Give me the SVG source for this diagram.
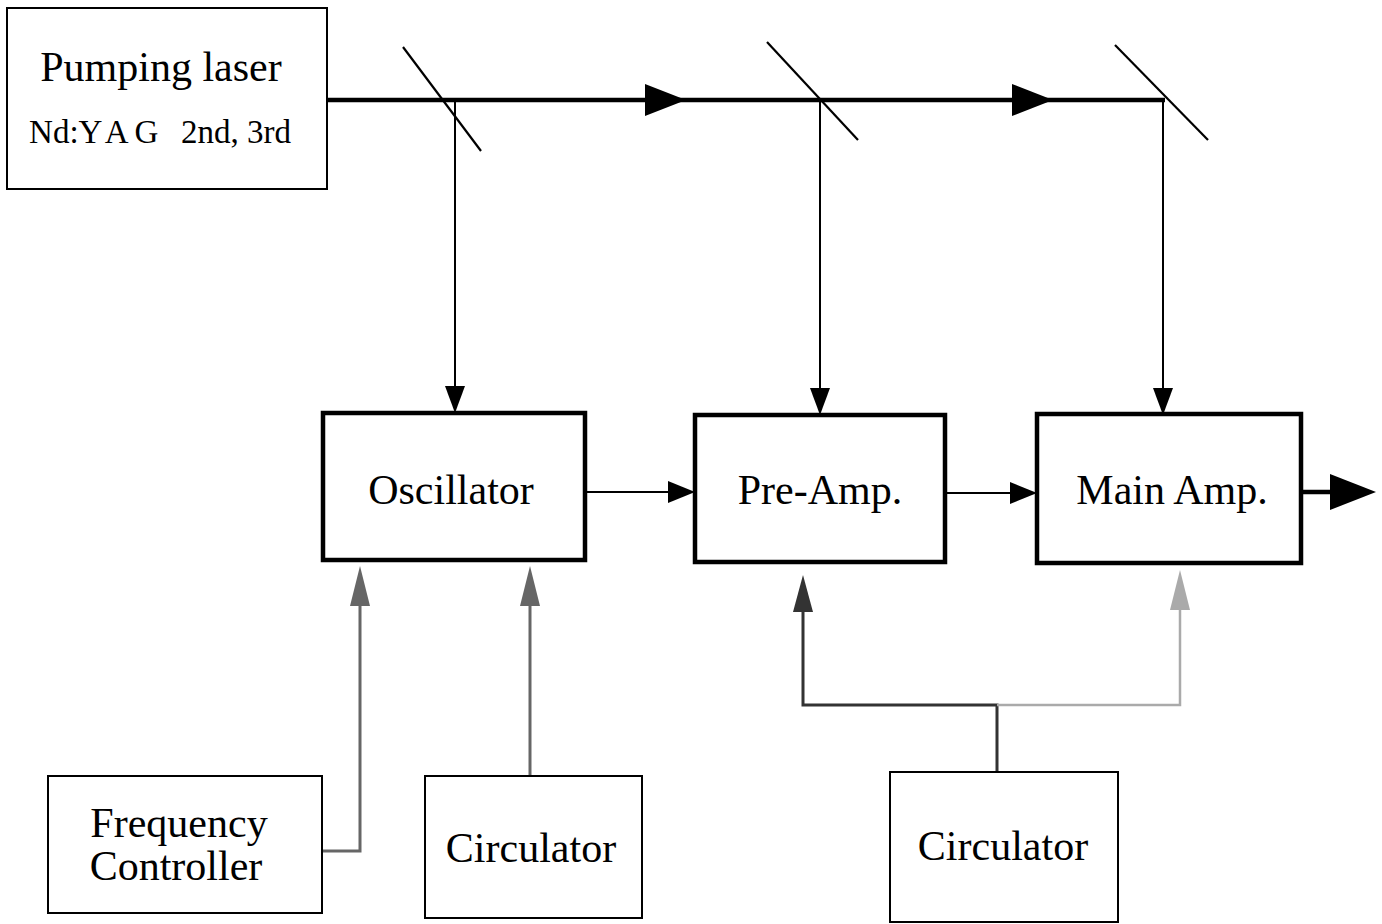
<svg xmlns="http://www.w3.org/2000/svg" width="1382" height="924" viewBox="0 0 1382 924">
<style>
.box{fill:#fff;stroke:#000;stroke-width:2}
.bold{fill:#fff;stroke:#000;stroke-width:4.5}
.t{font-family:"Liberation Serif","Times New Roman",serif;font-size:42px;fill:#000;text-anchor:middle}
.beam{stroke:#000;stroke-width:4.5;fill:none}
.thin{stroke:#000;stroke-width:2;fill:none}
.mir{stroke:#000;stroke-width:2.2;fill:none}
.g1{stroke:#666;stroke-width:3;fill:none}
.g2{stroke:#aaa;stroke-width:2.5;fill:none}
</style>
<rect width="1382" height="924" fill="#fff"/>
<g id="connectors">
  <line class="beam" x1="327" y1="100" x2="1165" y2="100"/>
  <polygon points="645,84 686,100 645,116" fill="#000"/>
  <polygon points="1012,84 1053,100 1012,116" fill="#000"/>
  <line class="mir" x1="403" y1="47" x2="481" y2="151"/>
  <line class="mir" x1="767" y1="42" x2="858" y2="140"/>
  <line class="mir" x1="1115" y1="45" x2="1208" y2="140"/>
  <line class="thin" x1="455" y1="100" x2="455" y2="390"/>
  <polygon points="445,386 455,413 465,386" fill="#000"/>
  <line class="thin" x1="820" y1="100" x2="820" y2="392"/>
  <polygon points="810,388 820,415 830,388" fill="#000"/>
  <line class="thin" x1="1163" y1="100" x2="1163" y2="392"/>
  <polygon points="1153,388 1163,415 1173,388" fill="#000"/>
  <line class="thin" x1="585" y1="492" x2="672" y2="492"/>
  <polygon points="668,481 695,492 668,503" fill="#000"/>
  <line class="thin" x1="945" y1="493" x2="1014" y2="493"/>
  <polygon points="1010,482 1037,493 1010,504" fill="#000"/>
  <line class="beam" x1="1301" y1="492" x2="1335" y2="492"/>
  <polygon points="1330,474 1376,492 1330,510" fill="#000"/>
  <polyline class="g1" points="322,851 360,851 360,600"/>
  <polygon points="350,606 360,566 370,606" fill="#666"/>
  <line class="g1" x1="530" y1="776" x2="530" y2="600"/>
  <polygon points="520,606 530,566 540,606" fill="#666"/>
  <polyline points="997,772 997,705 803,705 803,610" fill="none" stroke="#333" stroke-width="3"/>
  <polygon points="793,612 803,575 813,612" fill="#333"/>
  <polyline class="g2" points="997,705 1180,705 1180,610"/>
  <polygon points="1170,610 1180,570 1190,610" fill="#aaa"/>
</g>
<g id="pumping-laser">
  <rect class="box" x="7" y="8" width="320" height="181"/>
  <text class="t" x="161" y="81">Pumping laser</text>
  <text class="t" x="160" y="143" style="font-size:33px;white-space:pre" xml:space="preserve">Nd:<tspan letter-spacing="6">YAG</tspan>  2nd, 3rd</text>
</g>
<g id="oscillator">
  <rect class="bold" x="323" y="413" width="262" height="147"/>
  <text class="t" x="451" y="504">Oscillator</text>
</g>
<g id="pre-amp">
  <rect class="bold" x="695" y="415" width="250" height="147"/>
  <text class="t" x="820" y="504">Pre-Amp.</text>
</g>
<g id="main-amp">
  <rect class="bold" x="1037" y="414" width="264" height="149"/>
  <text class="t" x="1172" y="504">Main Amp.</text>
</g>
<g id="frequency-controller">
  <rect class="box" x="48" y="776" width="274" height="137"/>
  <text class="t" x="179" y="837">Frequency</text>
  <text class="t" x="176" y="880">Controller</text>
</g>
<g id="circulator-1">
  <rect class="box" x="425" y="776" width="217" height="142"/>
  <text class="t" x="531" y="862">Circulator</text>
</g>
<g id="circulator-2">
  <rect class="box" x="890" y="772" width="228" height="150"/>
  <text class="t" x="1003" y="860">Circulator</text>
</g>
</svg>
